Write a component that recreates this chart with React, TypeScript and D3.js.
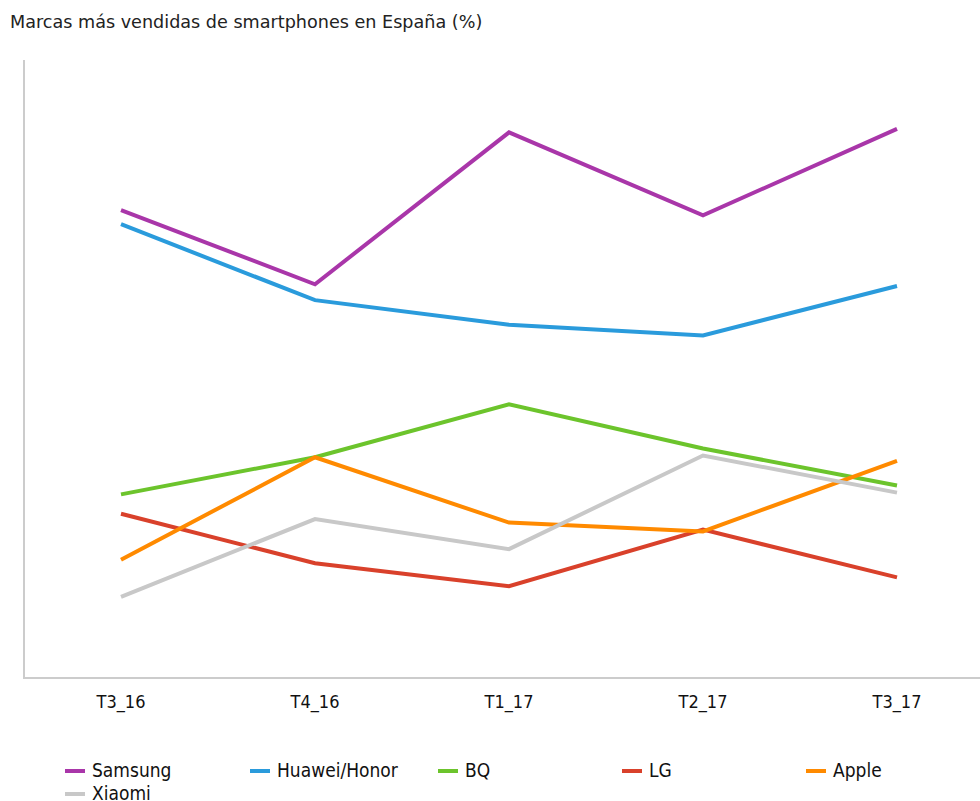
import React from "react";
import * as d3 from "d3";

const categories = ["T3_16", "T4_16", "T1_17", "T2_17", "T3_17"];
const seriesNames = ["Samsung", "Huawei/Honor", "BQ", "LG", "Apple", "Xiaomi"];
const seriesColors = ["#a936a9", "#2a9bdc", "#6cc42c", "#d9412b", "#ff8a00", "#c8c8c8"];
const samsung = [26.5, 22.3, 30.9, 26.2, 31.1];
const huawei = [25.7, 21.4, 20.0, 19.4, 22.2];
const bq = [10.4, 12.5, 15.5, 13.0, 10.9];
const lg = [9.3, 6.5, 5.2, 8.4, 5.7];
const apple = [6.7, 12.5, 8.8, 8.3, 12.3];
const xiaomi = [4.6, 9.0, 7.3, 12.6, 10.5];
const seriesValues = [samsung, huawei, bq, lg, apple, xiaomi];
const title = "Marcas más vendidas de smartphones en España (%)";

const W = 980;
const H = 801;
const left = 24;
const top = 60;
const bottom = 678;

export default function App() {
  const x = d3.scalePoint<string>().domain(categories).range([left, left + 970]).padding(0.5);
  const y = d3.scaleLinear().domain([0, 35]).range([bottom, top]);
  const line = d3
    .line<number>()
    .x((_, i) => x(categories[i]) as number)
    .y((d) => y(d));
  const condensed = "'Liberation Sans Narrow', 'DejaVu Sans Condensed', 'Arial Narrow', sans-serif";
  const legendCols = [65, 250, 438, 622, 806];
  return (
    <svg width={W} height={H} style={{ position: "absolute", left: 0, top: 0, background: "#fff" }}>
      <text x={10} y={28} fontFamily="'DejaVu Sans', Verdana, sans-serif" fontSize={17.6} fill="#222">
        {title}
      </text>
      <line x1={left} x2={left} y1={top} y2={bottom + 1} stroke="#cccccc" strokeWidth={2} />
      <line x1={left} x2={W} y1={bottom} y2={bottom} stroke="#cccccc" strokeWidth={2} />
      {categories.map((c) => (
        <text
          key={c}
          x={x(c) as number}
          y={708}
          textAnchor="middle"
          fontFamily={condensed}
          fontSize={18}
          fill="#111"
        >
          {c}
        </text>
      ))}
      {seriesValues.map((vals, i) => (
        <path
          key={seriesNames[i]}
          d={line(vals) || ""}
          fill="none"
          stroke={seriesColors[i]}
          strokeWidth={4}
          strokeLinejoin="miter"
        />
      ))}
      {seriesNames.map((n, i) => {
        const col = i % 5;
        const row = Math.floor(i / 5);
        const lx = legendCols[col];
        const ly = 771 + row * 23;
        return (
          <g key={n}>
            <line x1={lx} x2={lx + 20} y1={ly} y2={ly} stroke={seriesColors[i]} strokeWidth={4} />
            <text x={lx + 27} y={ly + 6} fontFamily={condensed} fontSize={19} fill="#111">
              {n}
            </text>
          </g>
        );
      })}
    </svg>
  );
}
